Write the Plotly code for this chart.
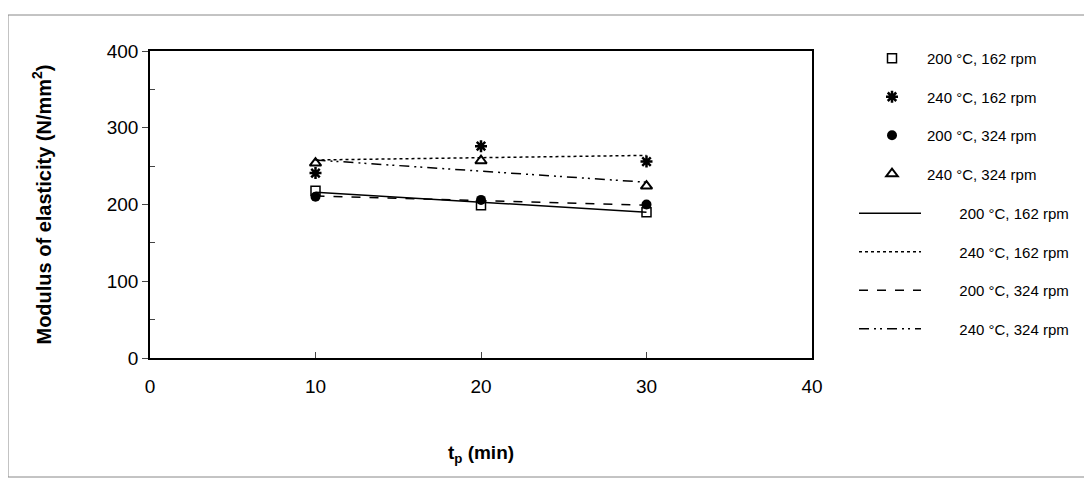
import plotly.graph_objects as go

t_min = [10, 20, 30]
mod_200_162 = [218, 199, 190]
mod_240_162 = [241, 276, 256]
mod_200_324 = [210, 206, 200]
mod_240_324 = [254, 257, 224]

trend_x = [10, 30]
trend_200_162 = [216, 190]
trend_240_162 = [258, 264]
trend_200_324 = [211, 199]
trend_240_324 = [258, 229]

names = ["200 °C, 162 rpm", "240 °C, 162 rpm", "200 °C, 324 rpm", "240 °C, 324 rpm"]
pad = "\u00a0" * 8

fig = go.Figure()

marker_specs = [
    (mod_200_162, dict(symbol="square-open", size=9, color="black", line=dict(width=1.5, color="black"))),
    (mod_240_162, dict(symbol="asterisk-open", size=10, color="black", line=dict(width=2.5, color="black"))),
    (mod_200_324, dict(symbol="circle", size=10, color="black")),
    (mod_240_324, dict(symbol="triangle-up-open", size=10, color="black", line=dict(width=2, color="black"))),
]
for i, (ys, mk) in enumerate(marker_specs):
    fig.add_trace(go.Scatter(x=t_min, y=ys, mode="markers", marker=mk, name=names[i],
                             legend="legend", legendgroup=f"m{i}"))

line_specs = [
    (trend_200_162, "solid"),
    (trend_240_162, "dot"),
    (trend_200_324, "dash"),
    (trend_240_324, "10px,5px,2px,4px,2px,5px"),
]
for i, (ys, dash) in enumerate(line_specs):
    fig.add_trace(go.Scatter(x=trend_x, y=ys, mode="lines", line=dict(color="black", width=1.5, dash=dash),
                             name=pad + names[i], legend="legend2", legendgroup=f"l{i}"))

font = "Liberation Sans, Arial, sans-serif"

# page has an 8px body margin; figure coordinates are offset accordingly
ML, MR, MT, MB = 142, 288, 43, 131
W, H = 1092, 481
pw = W - ML - MR
ph = H - MT - MB


def px(xfig):
    return (xfig - ML) / pw


def py(yfig):
    return (H - MB - yfig) / ph


fig.update_layout(
    width=W, height=H,
    margin=dict(l=ML, r=MR, t=MT, b=MB),
    paper_bgcolor="white", plot_bgcolor="white",
    font=dict(family=font, color="black"),
    xaxis=dict(range=[0, 40], tickvals=[0, 10, 20, 30, 40], ticks="inside", ticklen=6,
               showline=True, linecolor="black", linewidth=1.5, mirror=True, showgrid=False, zeroline=False,
               tickfont=dict(size=19), ticklabelstandoff=10,
               title=dict(text="<b>t<sub>p</sub> (min)</b>", font=dict(size=19), standoff=50)),
    yaxis=dict(range=[0, 400], tickvals=[0, 100, 200, 300, 400], ticks="outside", ticklen=6,
               showline=True, linecolor="black", linewidth=1.5, mirror=True, showgrid=False, zeroline=False,
               tickfont=dict(size=19),
               minor=dict(tickvals=[50, 150, 250, 350], ticks="inside", ticklen=5),
               title=dict(text="<b>Modulus of elasticity (N/mm<sup>2</sup>)</b>", font=dict(size=20), standoff=50)),
    legend=dict(x=px(849), y=py(34), xref="paper", yref="paper",
                font=dict(size=15, family=font), tracegroupgap=16, itemwidth=60,
                bgcolor="rgba(0,0,0,0)", yanchor="top", xanchor="left"),
    legend2=dict(x=px(846), y=py(189), xref="paper", yref="paper",
                 font=dict(size=15, family=font), tracegroupgap=16, itemwidth=62,
                 bgcolor="rgba(0,0,0,0)", yanchor="top", xanchor="left"),
    showlegend=True,
)
fig.add_shape(type="rect", xref="paper", yref="paper",
              x0=px(0), x1=px(1077), y0=py(469), y1=py(7),
              line=dict(color="#888888", width=1), layer="below")

fig.write_html("out.html")
